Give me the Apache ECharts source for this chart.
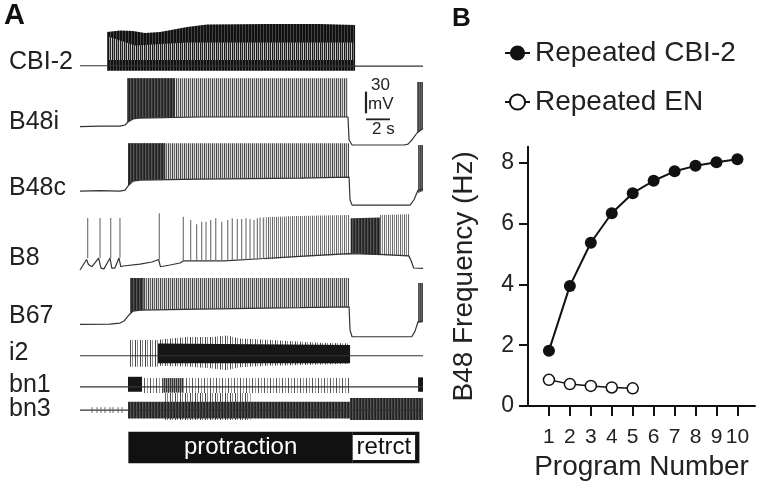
<!DOCTYPE html>
<html><head><meta charset="utf-8">
<script src="https://cdn.jsdelivr.net/npm/echarts@6/dist/echarts.min.js"></script>
<style>html,body{margin:0;padding:0;background:#fff}#c{width:766px;height:486px}</style>
</head><body><div id="c"></div>
<script>
// ---------------- Panel B data ----------------
const programNumbers = [1,2,3,4,5,6,7,8,9,10];
const cbi2Frequency = [1.82,3.95,5.37,6.34,7.0,7.41,7.72,7.9,8.02,8.12];
const enProgramNumbers = [1,2,3,4,5];
const enFrequency = [0.86,0.72,0.66,0.61,0.58];
const freqTicks = [0,2,4,6,8];

// ---------------- Panel A data (time in s, amplitude in mV relative to each trace's rest) -------------
const traceNames = ['CBI-2','B48i','B48c','B8','B67','i2','bn1','bn3'];
const traceOffsets = [-90.9,-175.2,-264.2,-368.8,-448.5,-491.9,-534.8,-567.0];

const cbi2Baseline = [[0,0],[2.25,0],[23.0,-0.4],[28.58,-0.4]];
const cbi2Burst = [[2.25,-6.9,46.6],[3.33,-6.9,48.7],[4.42,-6.9,48.0],[5.42,-6.9,45.2],[6.67,-6.9,46.6],[8.92,-6.9,53.5],[10.58,-6.9,57.0],[15.58,-6.9,57.7],[20.0,-6.9,57.7],[22.92,-6.9,56.3]];
const cbi2Mid = [[2.4,8,40],[4.6,8,28],[8.9,8,32],[22.8,8,32]];

const b48iBaseline = [[0,0],[1.67,0.7],[3.33,0.7],[3.75,2.4],[4.0,6.5],[4.42,10.7],[5.0,12.0],[10.0,13.4],[22.33,13.4],[22.42,-18.3],[22.67,-25.3],[27.0,-25.3],[27.33,-24.0],[27.67,-18.0],[28.08,-8.7],[28.58,-2.4]];
const b48iBurst = [[3.92,6.0,66.9],[4.42,10.7,66.9],[5.0,12.0,66.9],[10.0,13.4,66.9],[22.33,13.4,66.9]];
const b48iDense = [[3.92,6.0,66.9],[4.42,10.7,66.9],[5.0,12.0,66.9],[7.9,13.0,66.9]];
const b48iRebound = [[28.08,-8.7,61.8],[28.58,-2.4,61.8]];

const b48cBaseline = [[0,0],[1.67,0.7],[3.33,0],[3.75,1.4],[4.0,6.9],[4.42,13.8],[5.0,15.2],[10.0,16.6],[18.33,18.0],[22.42,19.4],[22.5,-12.4],[22.67,-19.4],[27.5,-19.4],[27.83,-12.0],[28.17,1.4],[28.58,3.0]];
const b48cBurst = [[4.0,6.9,66.0],[4.42,13.8,66.0],[5.0,15.2,66.0],[10.0,16.6,66.0],[18.33,18.0,66.0],[22.42,19.4,66.0]];
const b48cDense = [[4.0,6.9,66.0],[4.42,13.8,66.0],[5.0,15.2,66.0],[7.1,16.0,66.0]];
const b48cRebound = [[28.17,-2.8,63.6],[28.58,0,63.6]];

const b8Baseline = [[0,-4.6],[0.55,10],[0.7,3],[1.0,0],[1.55,12],[1.75,-2],[2.0,-3],[2.5,12],[2.65,-2],[2.9,-2],[3.25,12],[3.4,0],[3.6,1],[5.0,3.7],[6.0,6.5],[6.55,10],[6.7,0],[7.5,2.4],[8.33,5.1],[8.6,8],[12,8],[15,11],[19,15],[22.4,18],[22.5,20],[25,17],[27.4,15],[27.6,8],[27.8,-1.8],[28.58,-2.4]];
const b8Spikes = [[0.64,12,67.3],[1.67,12,67.3],[2.56,12,67.3],[3.33,12,67.3],[6.61,10,73.9],[8.61,8,69.2],[9.22,7,64.6],[9.72,7,58.6],[10.14,7,62.2],[10.5,7,62.2],[10.89,7,64.6],[11.31,8,66.9],[11.81,8,62.2],[12.31,8,64.6],[12.69,9,66.9],[13.11,9,65.9],[13.47,9,65.9],[13.83,10,66.9],[14.17,10,65.9],[14.5,10,64.6],[14.78,10,66.9],[15.0,11,68.0],[15.28,11,68.0]];
const b8Burst = [[15.4,10,68.5],[18,13,70],[22.45,17,71.5]];
const b8RetractDense = [[22.55,19,67],[25.0,16,68]];
const b8RetractSpikes = [[25.0,16,71.5],[27.45,14,72.5]];

const b67Baseline = [[0,0],[2.5,0.4],[3.33,1.8],[3.67,4.6],[4.0,11.5],[4.42,18.4],[5.0,19.8],[10.0,21.2],[18.33,23.2],[22.42,24.3],[22.5,-7.9],[22.67,-17.1],[27.64,-17.1],[27.9,-10],[28.17,3.6],[28.58,5]];
const b67Burst = [[4.17,14,64],[4.42,18.4,64],[5,19.8,64],[10,21.2,64],[18.33,23.2,64],[22.42,24.3,64]];
const b67Dense = [[4.17,14,64],[4.42,18.4,64],[5.3,20,64]];
const b67Rebound = [[28.17,1.8,57.1],[28.58,3,57.1]];

const i2Baseline = [[0,0],[28.58,0]];
const i2Early = [[4.17,-15.2,21.7],[6.5,-15.2,21.7]];
const i2Outer = [[6.5,-14,22],[8.89,-15,26],[11.1,-17.5,26],[12.2,-20,28],[13.3,-16,24],[15.6,-14,22],[17.8,-13,20],[20,-12,18],[22.5,-11,17]];
const i2Core = [[6.5,-10.5,17.1],[22.5,-10.5,15]];

const bn1Baseline = [[0,0],[28.58,0]];
const bn1Block = [[4.0,-6.9,13.8],[5.17,-6.9,13.8]];
const bn1Sparse = [[5.17,-8.7,12],[22.5,-8.7,12]];
const bn1Dense = [[6.9,-8,12],[8.6,-8,12]];
const bn1Rebound = [[28.17,-6.9,13],[28.58,-6.9,13]];

const bn3Baseline = [[0,0],[28.58,0]];
const bn3EarlySpikes = [[1.0,-4,4],[1.42,-4,4],[1.75,-4,4],[2.08,-4,4],[2.5,-4,4],[2.75,-4,4],[3.17,-4,4],[3.5,-4,4]];
const bn3Tall = [[7.1,-13.8,23.5],[14.2,-13.8,23.5]];
const bn3Dense = [[4.0,-11.5,11.5],[22.5,-11.5,11.5]];
const bn3Retract = [[22.5,-13.8,16.6],[28.58,-13.8,16.6]];

const phaseNames = ['protraction','retrct'];
const phaseStarts = [4.03, 22.73];
const phaseEnds = [22.73, 28.28];

const scaleBarMv = 30;
const scaleBarSec = 2;

// ---------------- layout / style ----------------
const FONT = "'Liberation Sans', Arial, Helvetica, sans-serif";
const INK = '#222';
const SCALE_T0 = 23.83, SCALE_V0 = -156.7, SCALE_H_V = -165.0;
const BAR_TOP = -597, BAR_BOTTOM = -640.7;

// vertical-stripe fills that imitate dense spike trains
function stripes(cols) {
  const cv = document.createElement('canvas');
  cv.width = cols.length; cv.height = 1;
  const ctx = cv.getContext('2d');
  cols.forEach((c, i) => { ctx.fillStyle = c; ctx.fillRect(i, 0, 1, 1); });
  return { image: cv, repeat: 'repeat' };
}
const P = {
  cbi2: stripes(['#111','#111','#444']),
  cbi2Mid: stripes(['#1a1a1a','#999','#222','#ccc']),
  gray: stripes(['#444','#ccc','#666','#ddd']),
  grayLight: stripes(['#666','#eee','#888','#fff']),
  dense: stripes(['#222','#555','#333']),
  darkish: stripes(['#333','#999']),
  rebound: stripes(['#444','#666']),
  sparse: stripes(['#555','#fff','#fff','#999','#fff','#fff']),
  extra: stripes(['#444','#fff','#888','#fff','#fff']),
  black: '#161616'
};

function bandSeries(trace, rows, fill, z) {
  const off = traceOffsets[trace];
  return {
    type: 'custom', xAxisIndex: 0, yAxisIndex: 0, silent: true, z: z || 2,
    data: rows.map(r => [r[0], r[1] + off, r[2] + off]),
    renderItem: function (params, api) {
      if (params.dataIndex !== 0) return null;
      const up = rows.map(r => api.coord([r[0], r[2] + off]));
      const lo = rows.map(r => api.coord([r[0], r[1] + off])).reverse();
      return { type: 'polygon', shape: { points: up.concat(lo) }, style: { fill: fill } };
    }
  };
}
function spikeSeries(trace, rows, color, width) {
  const off = traceOffsets[trace];
  return {
    type: 'custom', xAxisIndex: 0, yAxisIndex: 0, silent: true, z: 4,
    data: rows.map(r => [r[0], r[1] + off, r[2] + off]),
    renderItem: function (params, api) {
      const a = api.coord([api.value(0), api.value(1)]);
      const b = api.coord([api.value(0), api.value(2)]);
      return { type: 'line', shape: { x1: a[0], y1: a[1], x2: b[0], y2: b[1] }, style: { stroke: color, lineWidth: width || 1 } };
    }
  };
}
function traceLine(trace, rows) {
  const off = traceOffsets[trace];
  return {
    type: 'line', xAxisIndex: 0, yAxisIndex: 0, silent: true, z: 3,
    data: rows.map(r => [r[0], r[1] + off]), showSymbol: false, symbol: 'none',
    lineStyle: { color: '#333', width: 1.2 }
  };
}

const seriesA = [
  bandSeries(0, cbi2Burst, P.cbi2), bandSeries(0, cbi2Mid, P.cbi2Mid, 2.5),
  bandSeries(1, b48iBurst, P.gray), bandSeries(1, b48iDense, P.dense, 2.5), bandSeries(1, b48iRebound, P.rebound),
  bandSeries(2, b48cBurst, P.gray), bandSeries(2, b48cDense, P.dense, 2.5), bandSeries(2, b48cRebound, P.rebound),
  spikeSeries(3, b8Spikes, '#777', 1.2),
  bandSeries(3, b8Burst, P.grayLight), bandSeries(3, b8RetractDense, P.dense), bandSeries(3, b8RetractSpikes, P.grayLight),
  bandSeries(4, b67Burst, P.gray), bandSeries(4, b67Dense, P.dense, 2.5), bandSeries(4, b67Rebound, P.rebound),
  bandSeries(5, i2Early, P.extra), bandSeries(5, i2Outer, P.extra), bandSeries(5, i2Core, P.black, 2.5),
  bandSeries(6, bn1Sparse, P.sparse), bandSeries(6, bn1Dense, P.darkish, 2.5), bandSeries(6, bn1Block, P.black, 2.5), bandSeries(6, bn1Rebound, P.black),
  spikeSeries(7, bn3EarlySpikes, '#666', 1),
  bandSeries(7, bn3Tall, P.extra), bandSeries(7, bn3Dense, P.dense, 2.5), bandSeries(7, bn3Retract, P.dense, 2.5),
  traceLine(0, cbi2Baseline), traceLine(1, b48iBaseline), traceLine(2, b48cBaseline), traceLine(3, b8Baseline),
  traceLine(4, b67Baseline), traceLine(5, i2Baseline), traceLine(6, bn1Baseline), traceLine(7, bn3Baseline),
  // scale bars
  { type: 'line', xAxisIndex: 0, yAxisIndex: 0, silent: true, symbol: 'none', z: 5,
    data: [[SCALE_T0, SCALE_V0], [SCALE_T0, SCALE_V0 + scaleBarMv]], lineStyle: { color: INK, width: 2.2 } },
  { type: 'line', xAxisIndex: 0, yAxisIndex: 0, silent: true, symbol: 'none', z: 5,
    data: [[SCALE_T0, SCALE_H_V], [SCALE_T0 + scaleBarSec, SCALE_H_V]], lineStyle: { color: INK, width: 1.8 } },
  // phase bar
  { type: 'custom', xAxisIndex: 0, yAxisIndex: 0, silent: true, z: 5,
    data: phaseNames.map((n, i) => [phaseStarts[i], phaseEnds[i], n]),
    renderItem: function (params, api) {
      const a = api.coord([api.value(0), BAR_TOP]);
      const b = api.coord([api.value(1), BAR_BOTTOM]);
      const name = phaseNames[params.dataIndex];
      const x = a[0], y = a[1], w = b[0] - a[0], h = b[1] - a[1];
      if (params.dataIndex === 0) {
        return { type: 'group', children: [
          { type: 'rect', shape: { x: x, y: y, width: w, height: h }, style: { fill: '#111' } },
          { type: 'text', style: { text: name, x: x + w / 2, y: y + h / 2, fill: '#fff', font: '24px ' + FONT, align: 'center', verticalAlign: 'middle' } }
        ]};
      }
      return { type: 'group', children: [
        { type: 'rect', shape: { x: x, y: y, width: w, height: h }, style: { fill: '#111' } },
        { type: 'rect', shape: { x: x, y: y + 3.3, width: w - 4.3, height: h - 6.6 }, style: { fill: '#fff' } },
        { type: 'text', style: { text: name, x: x + (w - 4.3) / 2, y: y + h / 2, fill: '#111', font: '24px ' + FONT, align: 'center', verticalAlign: 'middle' } }
      ]};
    }
  }
];

const seriesB = [
  { name: 'Repeated CBI-2', type: 'line', xAxisIndex: 1, yAxisIndex: 1, z: 10,
    data: programNumbers.map((p, i) => [p, cbi2Frequency[i]]),
    symbol: 'circle', symbolSize: 12, lineStyle: { color: '#111', width: 2 },
    itemStyle: { color: '#111', borderColor: '#111', borderWidth: 0 } },
  { name: 'Repeated EN', type: 'line', xAxisIndex: 1, yAxisIndex: 1, z: 10,
    data: enProgramNumbers.map((p, i) => [p, enFrequency[i]]),
    symbol: 'circle', symbolSize: 11, lineStyle: { color: '#111', width: 1.5 },
    itemStyle: { color: '#fff', borderColor: '#111', borderWidth: 1.5 } }
];

const traceLabelY = [63.3, 123.3, 190, 260, 318, 355, 386.7, 410.7];
const graphics = traceNames.map((n, i) => ({
  type: 'text', left: 9, top: traceLabelY[i] - 14,
  style: { text: n, font: '25px ' + FONT, fill: INK }
}));
graphics.push(
  { type: 'text', left: 4, top: 1, style: { text: 'A', font: 'bold 29px ' + FONT, fill: '#111' } },
  { type: 'text', left: 452, top: 6, style: { text: 'B', font: 'bold 26px ' + FONT, fill: '#111' } },
  { type: 'text', left: 371, top: 77, style: { text: '30', font: '17px ' + FONT, fill: INK } },
  { type: 'text', left: 368, top: 96, style: { text: 'mV', font: '17px ' + FONT, fill: INK } },
  { type: 'text', left: 372, top: 121, style: { text: '2 s', font: '17px ' + FONT, fill: INK } }
);

const chart = echarts.init(document.getElementById('c'), null, { renderer: 'canvas' });
chart.setOption({
  animation: false,
  backgroundColor: '#fff',
  textStyle: { fontFamily: FONT },
  grid: [
    { left: 80, top: 0, width: 343, height: 486 },
    { left: 528, top: 146.7, right: 11, bottom: 80 }
  ],
  xAxis: [
    { gridIndex: 0, type: 'value', min: 0, max: 28.58, show: false },
    { gridIndex: 1, type: 'value', min: 0, max: 10.84,
      name: 'Program Number', nameLocation: 'middle', nameGap: 47,
      nameTextStyle: { fontSize: 28, color: INK, fontFamily: FONT },
      axisLine: { lineStyle: { color: '#111', width: 2 } },
      axisTick: { show: true, length: 10, lineStyle: { color: '#111', width: 2 }, customValues: programNumbers },
      axisLabel: { fontSize: 21, color: INK, margin: 21, fontFamily: FONT, customValues: programNumbers },
      splitLine: { show: false } }
  ],
  yAxis: [
    { gridIndex: 0, type: 'value', min: -672, max: 0, show: false },
    { gridIndex: 1, type: 'value', min: 0, max: 8.53, interval: 2,
      name: 'B48 Frequency (Hz)', nameLocation: 'middle', nameGap: 50,
      nameTextStyle: { fontSize: 28, color: INK, fontFamily: FONT },
      axisLine: { show: true, lineStyle: { color: '#111', width: 2 } },
      axisTick: { show: true, length: 9, lineStyle: { color: '#111', width: 2 }, customValues: freqTicks },
      axisLabel: { fontSize: 23, color: INK, margin: 14, fontFamily: FONT, customValues: freqTicks },
      splitLine: { show: false } }
  ],
  legend: {
    orient: 'vertical', left: 499, top: 34, itemGap: 21, itemWidth: 25, itemHeight: 19,
    data: ['Repeated CBI-2', 'Repeated EN'],
    textStyle: { fontSize: 28, color: INK, fontFamily: FONT },
    selectedMode: false
  },
  graphic: graphics,
  series: seriesA.concat(seriesB)
});
</script></body></html>
